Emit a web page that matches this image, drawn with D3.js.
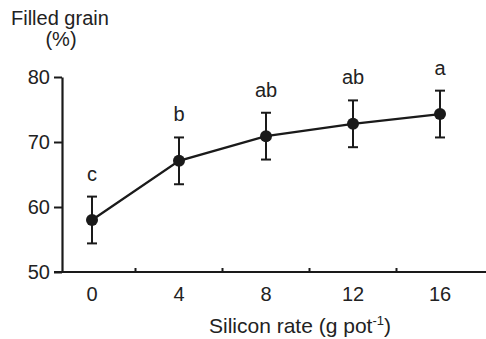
<!DOCTYPE html>
<html>
<head>
<meta charset="utf-8">
<script src="https://cdn.jsdelivr.net/npm/d3@7"></script>
<style>
  body { margin: 0; background: #fff; }
  text { font-family: "Liberation Sans", Arial, sans-serif; fill: #222; }
</style>
</head>
<body>
<svg width="486" height="339"></svg>
<script>
// data
const rates = [0, 4, 8, 12, 16]
const filled = [58.0, 67.1, 70.9, 72.8, 74.3]
const errs = [3.6, 3.6, 3.6, 3.6, 3.6]
const letters = ["c", "b", "ab", "ab", "a"]
const yTicks = [50, 60, 70, 80]
const minorTicks = [2, 6, 10, 14]

const svg = d3.select("svg")
const ink = "#1a1a1a"
const fs = 20

const x = d3.scaleLinear().domain([0, 16]).range([92, 440])
const y = d3.scaleLinear().domain([50, 80]).range([272, 77])

// y axis
const yAxis = svg.append("g")
  .attr("transform", "translate(62,0)")
  .call(d3.axisLeft(y).tickValues(yTicks).tickSize(8).tickSizeOuter(0).tickPadding(4))
yAxis.select(".domain").attr("stroke", ink).attr("stroke-width", 2.2)
yAxis.selectAll(".tick line").attr("stroke", ink).attr("stroke-width", 2)
yAxis.selectAll(".tick text").attr("font-size", fs).attr("fill", "#222")
  .attr("font-family", "Liberation Sans, Arial, sans-serif")

// x axis
svg.append("line")
  .attr("x1", 54).attr("x2", 486)
  .attr("y1", y(50)).attr("y2", y(50))
  .attr("stroke", ink).attr("stroke-width", 2.2)

svg.selectAll(".minor").data(minorTicks).join("line")
  .attr("x1", d => x(d)).attr("x2", d => x(d))
  .attr("y1", y(50)).attr("y2", y(50) - 4)
  .attr("stroke", ink).attr("stroke-width", 2)

svg.selectAll(".xlab").data(rates).join("text")
  .attr("x", d => x(d)).attr("y", 301)
  .attr("text-anchor", "middle").attr("font-size", fs)
  .text(d => d)

// line
const pts = rates.map((r, i) => ({ r, v: filled[i], e: errs[i], l: letters[i] }))

svg.append("path")
  .datum(pts)
  .attr("fill", "none").attr("stroke", ink).attr("stroke-width", 2.2)
  .attr("d", d3.line().x(d => x(d.r)).y(d => y(d.v)))

// error bars
const eb = svg.selectAll(".eb").data(pts).join("g")
eb.append("line")
  .attr("x1", d => x(d.r)).attr("x2", d => x(d.r))
  .attr("y1", d => y(d.v + d.e)).attr("y2", d => y(d.v - d.e))
  .attr("stroke", ink).attr("stroke-width", 2)
eb.selectAll(".cap").data(d => [d.v + d.e, d.v - d.e].map(v => ({ r: d.r, v }))).join("line")
  .attr("x1", d => x(d.r) - 5).attr("x2", d => x(d.r) + 5)
  .attr("y1", d => y(d.v)).attr("y2", d => y(d.v))
  .attr("stroke", ink).attr("stroke-width", 2)

svg.selectAll(".pt").data(pts).join("circle")
  .attr("cx", d => x(d.r)).attr("cy", d => y(d.v)).attr("r", 6)
  .attr("fill", ink)

// significance letters
svg.selectAll(".sig").data(pts).join("text")
  .attr("x", d => x(d.r)).attr("y", d => y(d.v + d.e) - 16)
  .attr("text-anchor", "middle").attr("font-size", fs)
  .text(d => d.l)

// titles
svg.append("text").attr("x", 11).attr("y", 25).attr("font-size", fs).text("Filled grain")
svg.append("text").attr("x", 61).attr("y", 46).attr("text-anchor", "middle").attr("font-size", fs).text("(%)")

const xt = svg.append("text").attr("x", 300).attr("y", 333)
  .attr("text-anchor", "middle").attr("font-size", 21)
xt.append("tspan").text("Silicon rate (g pot")
xt.append("tspan").attr("dy", -8).attr("font-size", 13).text("-1")
xt.append("tspan").attr("dy", 8).text(")")
</script>
</body>
</html>
